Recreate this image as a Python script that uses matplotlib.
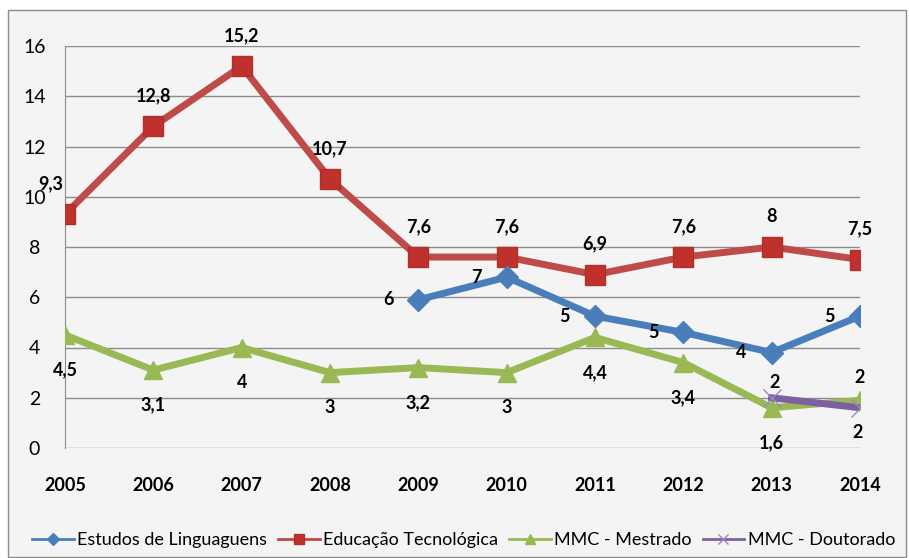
import matplotlib
matplotlib.use('Agg')
import matplotlib.pyplot as plt
from matplotlib.patches import Rectangle
from matplotlib.lines import Line2D

plt.rcParams['font.family'] = ['Lato', 'DejaVu Sans']

# Data
anos = [2005, 2006, 2007, 2008, 2009, 2010, 2011, 2012, 2013, 2014]
educacao = [9.3, 12.8, 15.2, 10.7, 7.6, 7.6, 6.9, 7.6, 8.0, 7.5]
anos_ling = [2009, 2010, 2011, 2012, 2013, 2014]
linguagens = [5.9, 6.8, 5.25, 4.6, 3.8, 5.25]
mestrado = [4.5, 3.1, 4.0, 3.0, 3.2, 3.0, 4.4, 3.4, 1.6, 1.9]
anos_dout = [2013, 2014]
doutorado = [2.0, 1.6]

lab_educacao = ['9,3', '12,8', '15,2', '10,7', '7,6', '7,6', '6,9', '7,6', '8', '7,5']
lab_linguagens = ['6', '7', '5', '5', '4', '5']
lab_mestrado = ['4,5', '3,1', '4', '3', '3,2', '3', '4,4', '3,4', '1,6', '2']
lab_doutorado = ['2', '2']
nomes = ['Estudos de Linguaguens', 'Educação Tecnológica', 'MMC - Mestrado', 'MMC - Doutorado']

bg = '#f4f4f4'
fig = plt.figure(figsize=(9.09, 5.58), dpi=100, facecolor='white')
fig.patches.append(Rectangle((8 / 909, 1 / 558), 898 / 909, 547 / 558, transform=fig.transFigure,
                             facecolor=bg, edgecolor='#8c8c8c', linewidth=1, zorder=-5))
ax = fig.add_axes([65 / 909, 110 / 558, 795 / 909, 402 / 558])
ax.set_facecolor(bg)

c_blue = '#4a7ebb'
c_red = '#be4b48'
c_green = '#98b954'
c_purple = '#7d60a0'

ax.plot(anos_ling, linguagens, color=c_blue, lw=5, marker='D', ms=11, zorder=4)
ax.plot(anos, educacao, color=c_red, lw=5, marker='s', ms=14, zorder=3,
        markerfacecolor='#c0302c', markeredgecolor='#b0302c')
ax.plot(anos, mestrado, color=c_green, lw=5, marker='^', ms=13, zorder=4)
ax.plot(anos_dout, doutorado, color=c_purple, lw=5, marker='x', ms=13, mew=1, zorder=5,
        markeredgecolor='#9a86c0')

fs = 13
lab = dict(textcoords='offset points', fontsize=fs, fontweight='bold', zorder=10)
for x, y, t in zip(anos, educacao, lab_educacao):
    dx = -10 if x == 2005 else 0
    ax.annotate(t, (x, y), xytext=(dx, 16), ha='center', va='bottom', **lab)
for x, y, t in zip(anos_ling, linguagens, lab_linguagens):
    ax.annotate(t, (x, y), xytext=(-18, 0), ha='right', va='center', **lab)
for x, y, t in zip(anos, mestrado, lab_mestrado):
    if x == 2014:
        ax.annotate(t, (x, y), xytext=(0, 10), ha='center', va='bottom', **lab)
    else:
        ax.annotate(t, (x, y), xytext=(0, -19), ha='center', va='top', **lab)
ax.annotate(lab_doutorado[0], (anos_dout[0], doutorado[0]), xytext=(2, 5), ha='center', va='bottom', **lab)
ax.annotate(lab_doutorado[1], (anos_dout[1], doutorado[1]), xytext=(-2, -12), ha='center', va='top', **lab)

ax.set_xlim(2005, 2014)
ax.set_ylim(0, 16)
ax.set_xticks(anos)
ax.set_xticklabels([str(a) for a in anos], fontsize=13, fontweight='bold')
ax.set_yticks(range(0, 17, 2))
ax.tick_params(axis='y', labelsize=14, length=0, pad=22)
ax.tick_params(axis='x', length=0, pad=21)
for lbl in ax.get_yticklabels():
    lbl.set_ha('center')
ax.grid(axis='y', color='#8c8c8c', lw=1)
ax.set_axisbelow(True)
for s in ['top', 'right', 'bottom']:
    ax.spines[s].set_visible(False)
ax.spines['left'].set_color('#8c8c8c')

handles = [
    Line2D([], [], color=c_blue, lw=2, marker='D', ms=6),
    Line2D([], [], color=c_red, lw=2, marker='s', ms=7, markerfacecolor='#c0302c', markeredgecolor='#b0302c'),
    Line2D([], [], color=c_green, lw=2, marker='^', ms=7),
    Line2D([], [], color=c_purple, lw=2, marker='x', ms=7, mew=1, markeredgecolor='#9a86c0'),
]
fig.legend(handles, nomes, loc='lower center', bbox_to_anchor=(0.51, -0.012), ncol=4, frameon=False,
           fontsize=13, handlelength=2.3, columnspacing=0.6, handletextpad=0.2)

fig.savefig('out.png', dpi=100, facecolor='white')
